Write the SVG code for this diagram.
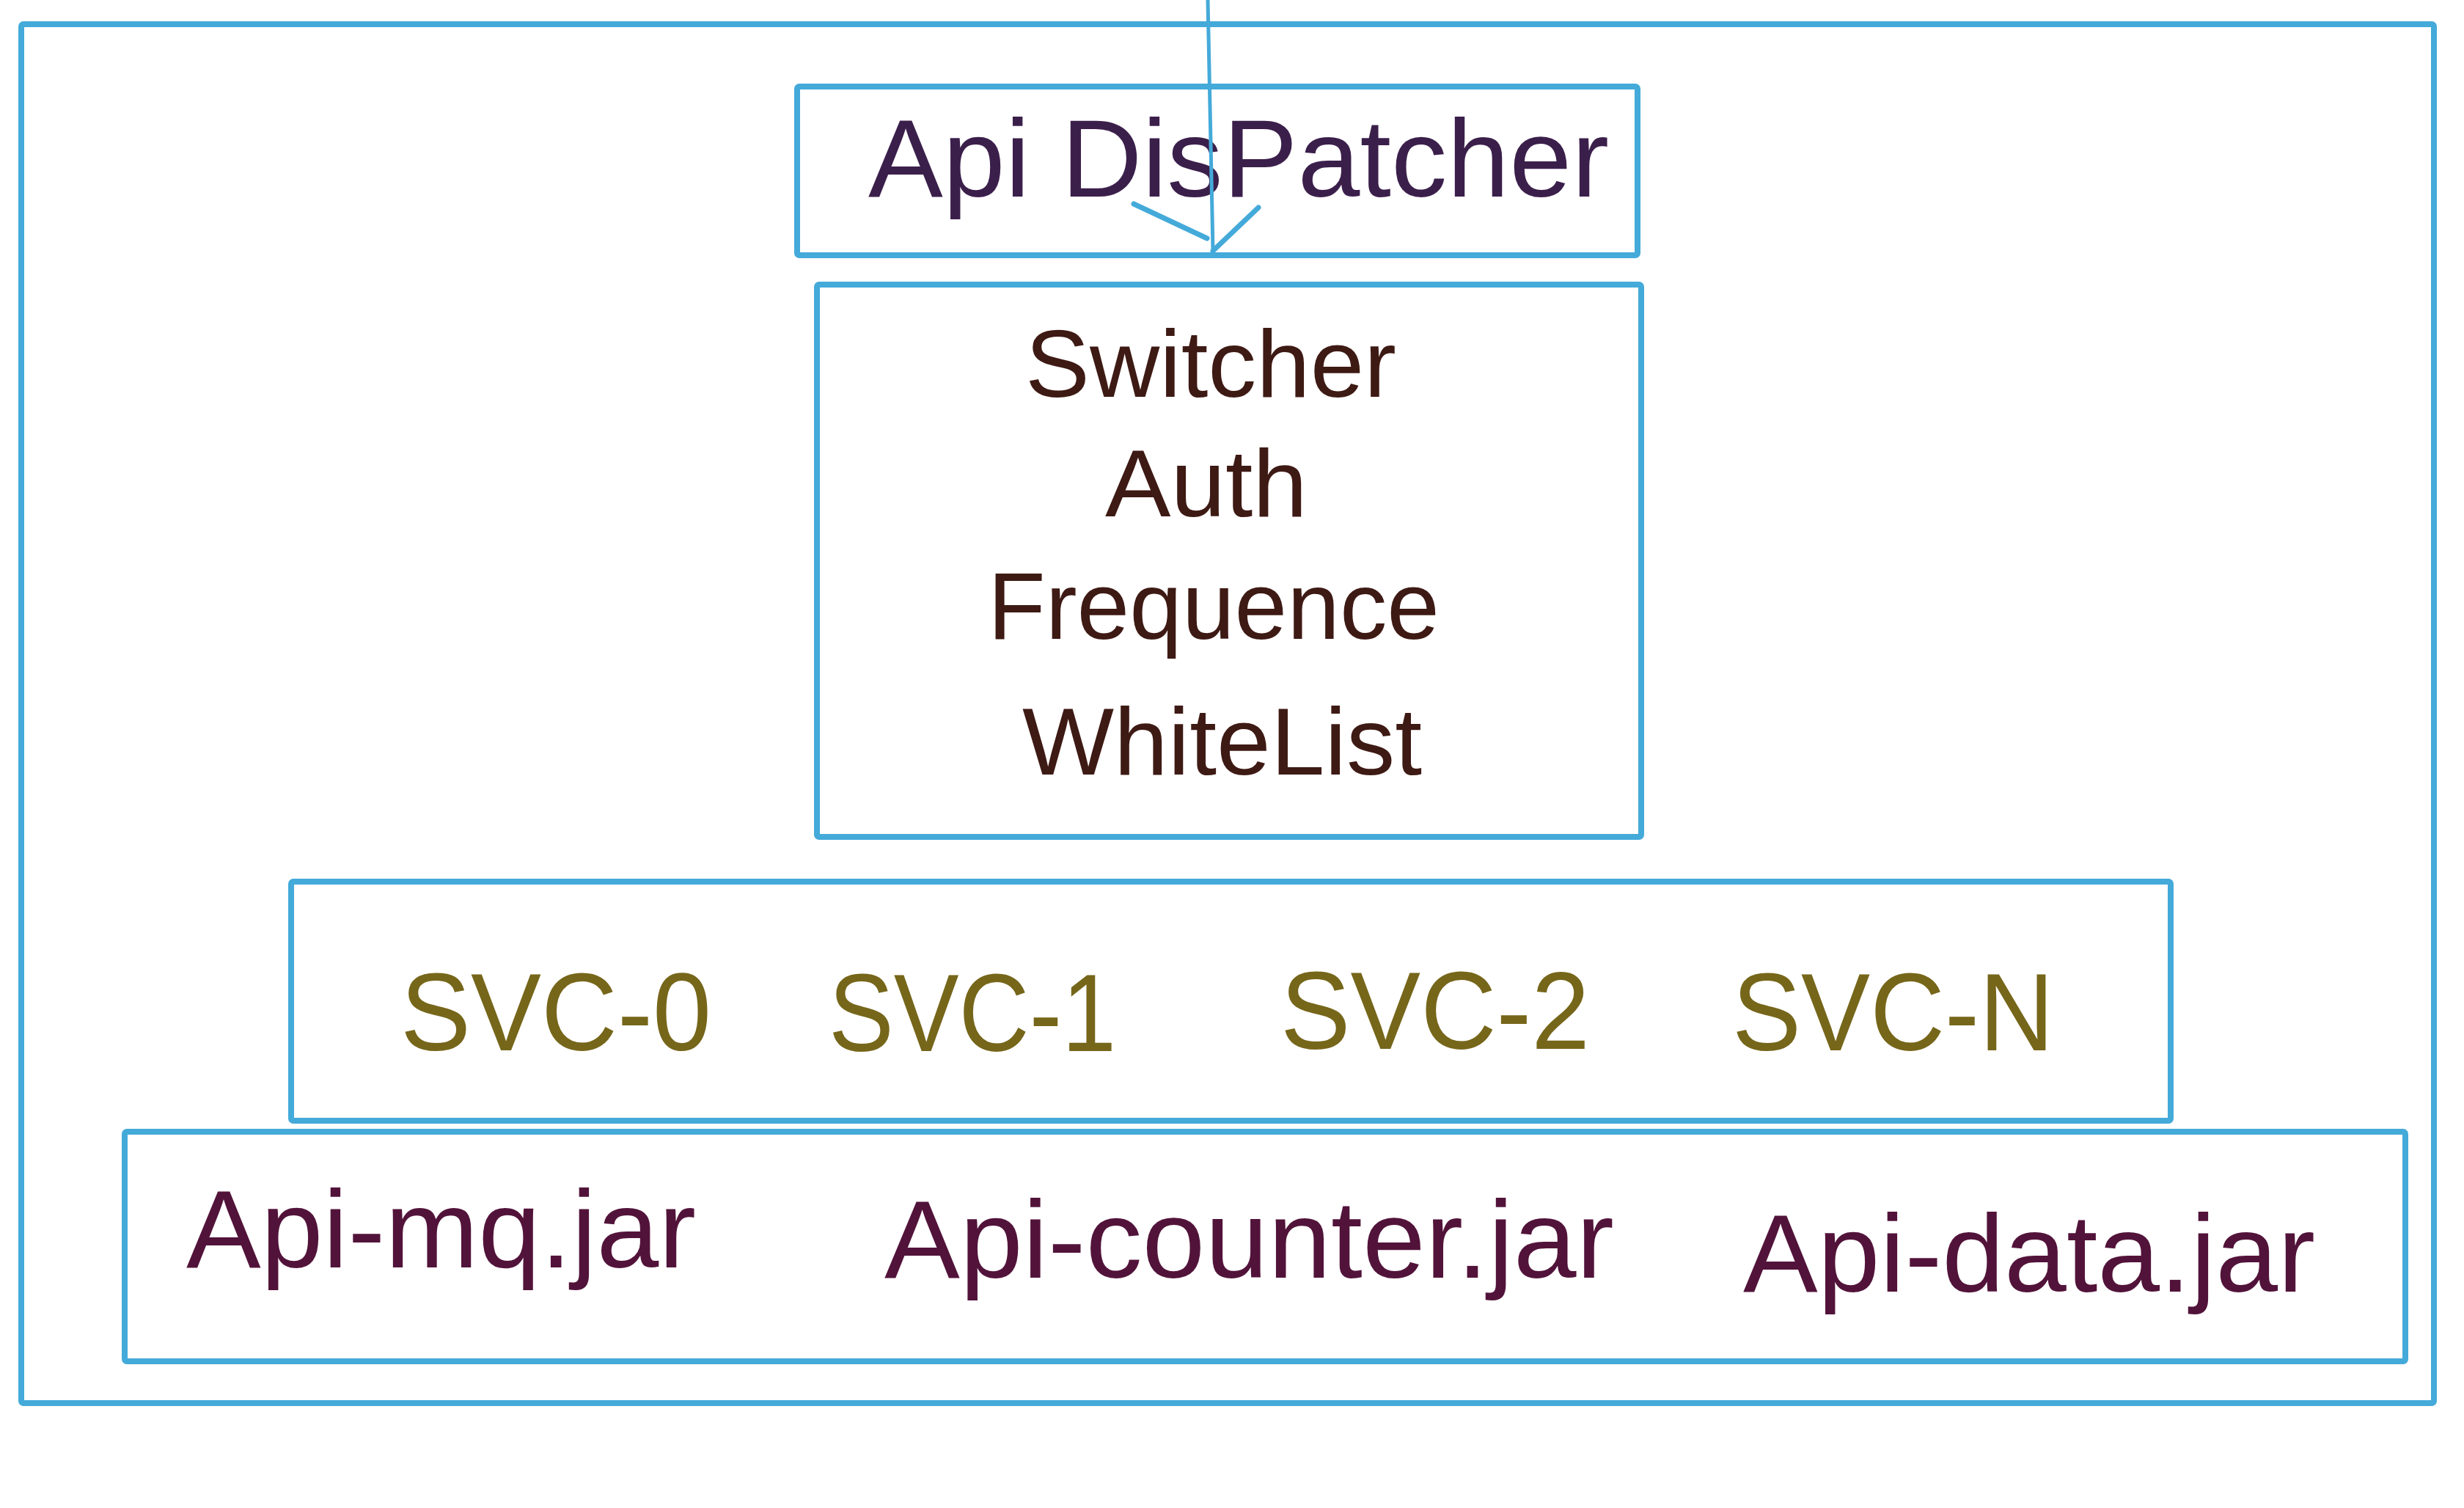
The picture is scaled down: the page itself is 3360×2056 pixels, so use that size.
<svg xmlns="http://www.w3.org/2000/svg" width="3360" height="2056" viewBox="0 0 3360 2056">
<style>
.box{fill:none;stroke:#44aad9;stroke-width:8;stroke-linejoin:round}
.t{font-family:"Liberation Sans",Arial,sans-serif}
.disp{fill:#3b1f4b;font-size:150px}
.mid{fill:#3e1a14;font-size:130px}
.svc{fill:#76661a;font-size:150px}
.jar{fill:#52133a;font-size:150px}
.conn{fill:none;stroke:#44aad9;stroke-linecap:round;stroke-linejoin:round}
</style>
<rect width="3360" height="2056" fill="#ffffff"/>
<g id="outer">
<rect class="box" x="29" y="33" width="3290" height="1880" rx="3"/>
</g>
<g id="dispatcher">
<rect class="box" x="1087" y="118" width="1146" height="230" rx="3"/>
<text class="t disp" x="1184" y="268" textLength="1010" lengthAdjust="spacingAndGlyphs">Api DisPatcher</text>
</g>
<g id="filters">
<rect class="box" x="1114" y="388" width="1124" height="753" rx="3"/>
<text class="t mid" x="1398" y="541" textLength="506" lengthAdjust="spacingAndGlyphs">Switcher</text>
<text class="t mid" x="1507" y="704" textLength="276" lengthAdjust="spacingAndGlyphs">Auth</text>
<text class="t mid" x="1347" y="871" textLength="616" lengthAdjust="spacingAndGlyphs">Frequence</text>
<text class="t mid" x="1394" y="1056" textLength="545" lengthAdjust="spacingAndGlyphs">WhiteList</text>
</g>
<g id="services">
<rect class="box" x="397" y="1202" width="2563" height="326" rx="3"/>
<text class="t svc" x="546" y="1432" textLength="424" lengthAdjust="spacingAndGlyphs">SVC-0</text>
<text class="t svc" x="1130" y="1433" textLength="392" lengthAdjust="spacingAndGlyphs">SVC-1</text>
<text class="t svc" x="1746" y="1430" textLength="422" lengthAdjust="spacingAndGlyphs">SVC-2</text>
<text class="t svc" x="2362" y="1432" textLength="439" lengthAdjust="spacingAndGlyphs">SVC-N</text>
</g>
<g id="jars">
<rect class="box" x="170" y="1543" width="3110" height="313" rx="3"/>
<text class="t jar" x="254" y="1728" textLength="695" lengthAdjust="spacingAndGlyphs">Api-mq.jar</text>
<text class="t jar" x="1206" y="1742" textLength="995" lengthAdjust="spacingAndGlyphs">Api-counter.jar</text>
<text class="t jar" x="2377" y="1761" textLength="780" lengthAdjust="spacingAndGlyphs">Api-data.jar</text>
</g>
<g id="connectors">
<path class="conn" stroke-width="5" d="M1647,0 L1654,341"/>
<path class="conn" stroke-width="7" d="M1546,278 L1646,325"/>
<path class="conn" stroke-width="7" d="M1716,283 L1654,342"/>
</g>
</svg>
